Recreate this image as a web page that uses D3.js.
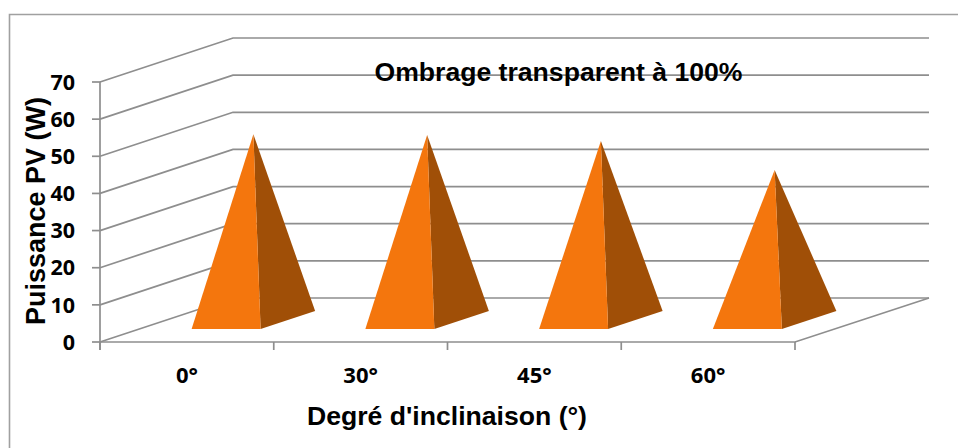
<!DOCTYPE html>
<html><head><meta charset="utf-8">
<script src="https://cdn.jsdelivr.net/npm/d3@7"></script>
<style>html,body{margin:0;padding:0;background:#fff}svg{display:block}</style>
</head><body><div id="c"></div>
<script>
const categories = ["0°","30°","45°","60°"];
const values = [50, 49.8, 48.2, 40.4];
const yTicks = [0,10,20,30,40,50,60,70];
const titleText = "Ombrage transparent à 100%";
const xTitle = "Degré d'inclinaison (°)";
const yTitle = "Puissance PV (W)";

const W=958,H=448;
const svg=d3.select("#c").append("svg").attr("width",W).attr("height",H);
const x=d3.scaleBand().domain(categories).range([100,795]);
const y=d3.scaleLinear().domain([0,70]).range([342,82]);
// depth projection of the 3-D floor
const depthX=133, depthY=-44;
const px=(xv,t)=>xv+depthX*t, py=(yv,t)=>yv+depthY*t;
const grid="#8e8e8e";

svg.append("path").attr("d",`M9.5,${H}V14.5H${W}`).attr("fill","none").attr("stroke","#a0a0a0").attr("stroke-width",1.6);

const g=svg.append("g").attr("fill","none").attr("stroke",grid).attr("stroke-width",1.7);
yTicks.forEach(v=>{
  g.append("path").attr("d",d3.line()([[100,y(v)],[px(100,1),py(y(v),1)],[929,py(y(v),1)]]));
  g.append("line").attr("x1",92).attr("x2",100).attr("y1",y(v)).attr("y2",y(v));
});
g.append("line").attr("x1",100).attr("x2",100).attr("y1",y(70)).attr("y2",y(0)+8);
g.append("path").attr("d",d3.line()([[100,y(0)],[795,y(0)],[929,py(y(0),1)]]));
const xt=categories.map(c=>x(c)).concat([x.range()[1]]);
xt.forEach(t=>g.append("line").attr("x1",t).attr("x2",t).attr("y1",y(0)).attr("y2",y(0)+8));

const tF=0.295,tB=0.705,half=x.bandwidth()*0.1985;
categories.forEach((c,i)=>{
  const cx=x(c)+x.bandwidth()/2;
  const fl=[px(cx-half,tF),py(y(0),tF)], fr=[px(cx+half,tF),py(y(0),tF)], br=[px(cx+half,tB),py(y(0),tB)];
  const apex=[px(cx,0.5),py(y(values[i]),0.5)];
  svg.append("path").attr("d",d3.line()([fr,br,apex])+"Z").attr("fill","#a04f07");
  svg.append("path").attr("d",d3.line()([fl,fr,apex])+"Z").attr("fill","#f4760d");
});

const bodyF="'Open Sans',sans-serif", headF="'Liberation Sans',Arial,sans-serif";
svg.append("g").selectAll("text").data(yTicks).join("text")
  .attr("x",75).attr("y",d=>y(d)).attr("dy","0.36em").attr("text-anchor","end")
  .attr("font-family",bodyF).attr("font-weight",700).attr("font-size",21.5).attr("fill","#000").text(d=>d);
svg.append("g").selectAll("text").data(categories).join("text")
  .attr("x",d=>x(d)+x.bandwidth()/2).attr("y",383).attr("text-anchor","middle")
  .attr("font-family",bodyF).attr("font-weight",700).attr("font-size",22).attr("fill","#000").text(d=>d);
svg.append("text").attr("x",558.5).attr("y",81).attr("text-anchor","middle")
  .attr("font-family",headF).attr("font-weight",700).attr("font-size",26.6).attr("fill","#000").text(titleText);
svg.append("text").attr("x",447).attr("y",425).attr("text-anchor","middle")
  .attr("font-family",headF).attr("font-weight",700).attr("font-size",26.6).attr("fill","#000").text(xTitle);
svg.append("text").attr("transform","translate(45,211) rotate(-90)").attr("text-anchor","middle")
  .attr("font-family",headF).attr("font-weight",700).attr("font-size",27).attr("fill","#000").text(yTitle);
</script></body></html>
